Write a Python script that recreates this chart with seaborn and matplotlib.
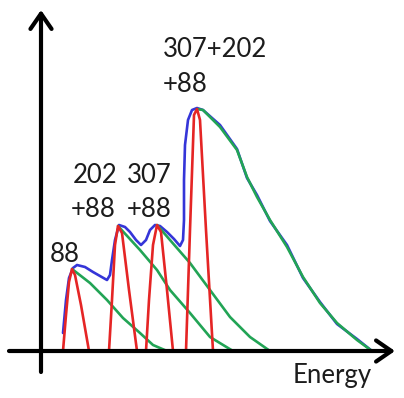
import matplotlib
matplotlib.use("Agg")
import matplotlib.pyplot as plt
import seaborn as sns

# ---- data (energy, intensity) ----
# narrow red peaks
red1_e = [22, 25, 28, 31, 34, 40, 48]
red1_i = [0, 36, 69, 82, 76, 46, 0]
red2_e = [68, 71, 74, 77, 81, 88, 96]
red2_i = [0, 51, 106, 125, 118, 61, 0]
red3_e = [105, 108, 112, 116, 120, 126, 132]
red3_i = [0, 51, 106, 126, 119, 61, 0]
red4_e = [145, 149, 153, 156, 159, 165, 172]
red4_i = [0, 121, 236, 242, 231, 121, 0]

# green decaying tails
green1_e = [31, 49, 66, 82, 99, 112, 126]
green1_i = [82, 68, 51, 33, 18, 6, 0]
green2_e = [77, 99, 116, 129, 149, 169, 192]
green2_i = [125, 101, 81, 61, 38, 14, 0]
green3_e = [116, 129, 149, 169, 189, 209, 229]
green3_i = [126, 111, 88, 61, 34, 14, 0]
green4_e = [156, 162, 179, 196, 206, 216, 229, 246, 262, 279, 296, 316, 331]
green4_i = [242, 241, 224, 201, 174, 154, 131, 104, 74, 48, 28, 11, 0]

# blue total envelope
blue_e = [22, 25, 28, 32, 36, 44, 52, 59, 66, 69, 71, 74, 78, 84, 89, 95, 100,
          105, 109, 114, 119, 126, 133, 139, 142, 143, 143, 144, 147, 151, 156,
          162, 179, 196, 206, 216, 229, 246, 262, 279, 296, 316, 331]
blue_i = [18, 51, 73, 83, 86, 84, 79, 75, 71, 76, 91, 111, 126, 124, 119, 111, 106,
          111, 121, 126, 125, 119, 112, 105, 111, 131, 171, 206, 231, 241, 243,
          241, 226, 202, 173, 156, 130, 106, 73, 49, 27, 12, 0]

# labels: (text, energy, intensity, ha)
labels = [("88", 9, 89, "left"),
          ("202", 54, 168, "center"), ("+88", 52, 134, "center"),
          ("307", 108, 168, "center"), ("+88", 108, 134, "center"),
          ("307+202", 122, 294, "left"), ("+88", 122, 259, "left")]
xlabel = "Energy"

sns.set_style("white")
plt.rcParams["font.family"] = ["Lato", "DejaVu Sans"]

fig = plt.figure(figsize=(4.04, 3.98), dpi=100)
ax = fig.add_axes([0, 0, 1, 1])

BLUE = "#3535d8"
GREEN = "#22a455"
RED = "#e52525"
lw = 1.9

sns.lineplot(x=blue_e, y=blue_i, sort=False, estimator=None, color=BLUE, lw=lw, ax=ax)
for ge, gi in [(green1_e, green1_i), (green2_e, green2_i), (green3_e, green3_i), (green4_e, green4_i)]:
    sns.lineplot(x=ge, y=gi, sort=False, estimator=None, color=GREEN, lw=lw, ax=ax)
for re_, ri in [(red1_e, red1_i), (red2_e, red2_i), (red3_e, red3_i), (red4_e, red4_i)]:
    sns.lineplot(x=re_, y=ri, sort=False, estimator=None, color=RED, lw=lw, ax=ax)

# axes with arrows
arrow = dict(arrowstyle="->,head_length=0.55,head_width=0.38", lw=3, color="black",
             mutation_scale=20, shrinkA=0, shrinkB=0)
ax.annotate("", xy=(0, 341), xytext=(0, -21), arrowprops=arrow)
ax.annotate("", xy=(354, 0), xytext=(-32, 0), arrowprops=arrow)

for t, x, y, ha in labels:
    ax.text(x, y, t, ha=ha, va="baseline", fontsize=18.5, color="#1c1c1c")
ax.text(252, -32, xlabel, ha="left", va="baseline", fontsize=18.5, color="#1c1c1c")

ax.set_xlim(-41, 363)
ax.set_ylim(-47, 351)
ax.axis("off")
fig.savefig("out.png", dpi=100)
